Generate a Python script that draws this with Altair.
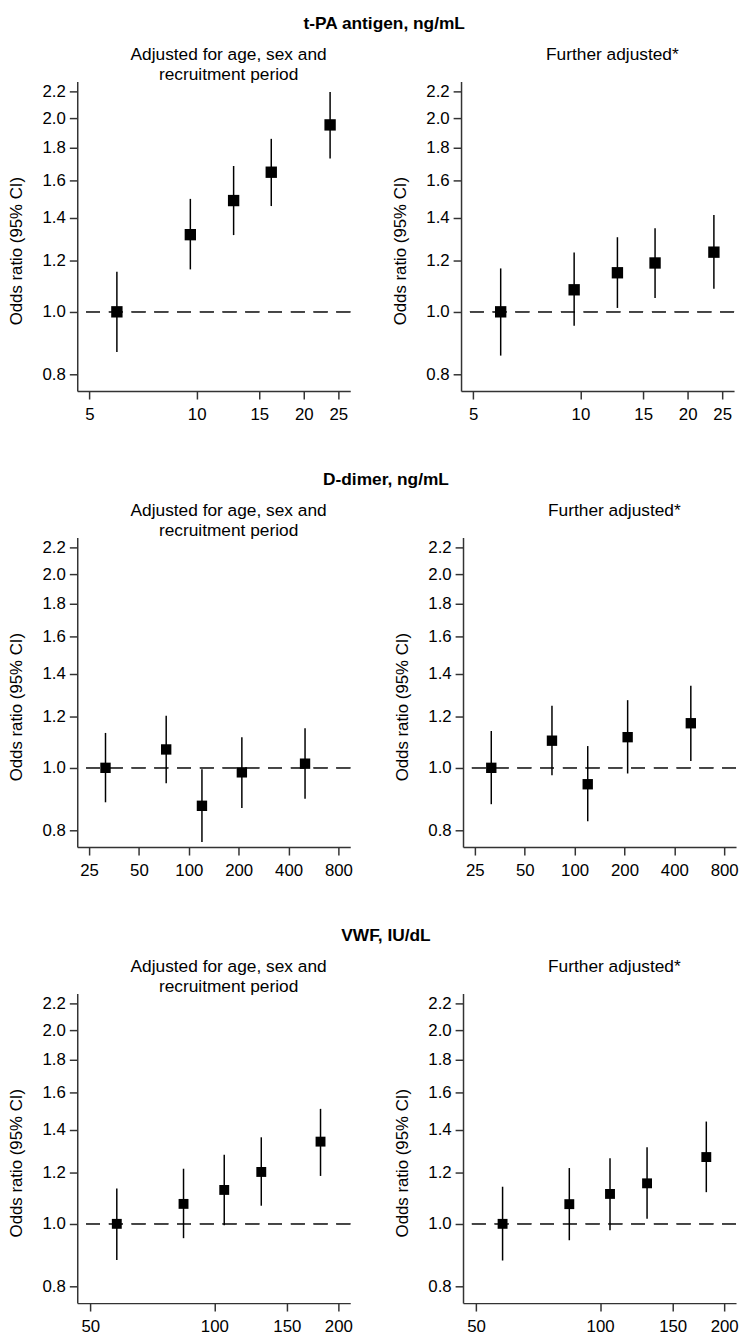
import altair as alt
import pandas as pd

FONT = "Liberation Sans"

# ---- data ----
tpa_x = [5.97, 9.6, 12.7, 16.2, 23.7]
dd_x = [31.4, 73.0, 120.0, 209.0, 503.0]
vwf_x = [58.0, 84.2, 105.7, 130.0, 181.0]

tpa_adj_or = [1.0, 1.318, 1.489, 1.648, 1.952]
tpa_adj_lo = [0.866, 1.164, 1.316, 1.460, 1.731]
tpa_adj_hi = [1.154, 1.498, 1.685, 1.857, 2.195]

tpa_full_or = [1.0, 1.082, 1.150, 1.191, 1.238]
tpa_full_lo = [0.855, 0.951, 1.014, 1.051, 1.086]
tpa_full_hi = [1.168, 1.236, 1.306, 1.348, 1.414]

dd_adj_or = [1.0, 1.068, 0.873, 0.984, 1.015]
dd_adj_lo = [0.884, 0.946, 0.767, 0.866, 0.895]
dd_adj_hi = [1.133, 1.205, 0.995, 1.116, 1.152]

dd_full_or = [1.0, 1.102, 0.943, 1.116, 1.173]
dd_full_lo = [0.878, 0.974, 0.826, 0.980, 1.025]
dd_full_hi = [1.141, 1.249, 1.081, 1.274, 1.341]

vwf_adj_or = [1.0, 1.074, 1.129, 1.204, 1.342]
vwf_adj_lo = [0.879, 0.950, 0.995, 1.067, 1.187]
vwf_adj_hi = [1.135, 1.218, 1.280, 1.363, 1.509]

vwf_full_or = [1.0, 1.073, 1.113, 1.156, 1.270]
vwf_full_lo = [0.877, 0.943, 0.977, 1.018, 1.120]
vwf_full_hi = [1.142, 1.221, 1.265, 1.315, 1.442]

y_ticks = [0.8, 1.0, 1.2, 1.4, 1.6, 1.8, 2.0, 2.2]
tpa_ticks = [5, 10, 15, 20, 25]
dd_ticks = [25, 50, 100, 200, 400, 800]
vwf_ticks = [50, 100, 150, 200]

row_titles = ["t-PA antigen, ng/mL", "D-dimer, ng/mL", "VWF, IU/dL"]
adj_title = ["Adjusted for age, sex and", "recruitment period"]
full_title = ["Further adjusted*", " "]
y_title = "Odds ratio (95% CI)"

# ---- styling ----
Y_DOMAIN = [0.753, 2.28]
PW, PH = 276, 313

yscale = alt.Scale(type="log", domain=Y_DOMAIN, nice=False, zero=False)
yaxis = alt.Axis(values=y_ticks, format=".1f", title=y_title, grid=False,
                 titleX=-61, titleY=171, titleAngle=-90, titleBaseline="middle",
                 titleAlign="center", labelOverlap=False, labelFlush=False,
                 labelPadding=4)


def panel(xs, ors, los, his, xdom, xticks, title_lines, sq):
    df = pd.DataFrame({"x": xs, "or": ors, "lo": los, "hi": his})
    xscale = alt.Scale(type="log", domain=xdom, nice=False, zero=False)
    xaxis = alt.Axis(values=xticks, format="d", title=None, grid=False,
                     labelOverlap=False, labelFlush=False, labelPadding=8)
    ref = alt.Chart(df).mark_rule(strokeDash=[14, 9], color="#444444", strokeWidth=1.3).encode(
        y=alt.YDatum(1.0, scale=yscale, axis=yaxis)
    )
    base = alt.Chart(df)
    ci = base.mark_rule(color="black", strokeWidth=1.5).encode(
        x=alt.X("x:Q", scale=xscale, axis=xaxis),
        y=alt.Y("lo:Q", scale=yscale, axis=yaxis),
        y2="hi:Q",
    )
    pts = base.mark_square(color="black", filled=True, opacity=1, size=sq).encode(
        x=alt.X("x:Q", scale=xscale, axis=xaxis),
        y=alt.Y("or:Q", scale=yscale, axis=yaxis),
    )
    return alt.layer(ref, ci, pts).properties(
        width=PW, height=PH,
        title=alt.TitleParams(text=title_lines, font=FONT, fontSize=17.5, fontWeight="normal",
                              color="black", dx=15, offset=-16, lineHeight=20,
                              baseline="alphabetic", anchor="middle"),
    )


def row(title, left, right):
    return alt.hconcat(left, right, spacing=41).properties(
        title=alt.TitleParams(text=title, font=FONT, fontSize=17.5, fontWeight="bold",
                              color="black", anchor="middle", dx=13, offset=0,
                              baseline="alphabetic")
    )


r1 = row(row_titles[0],
         panel(tpa_x, tpa_adj_or, tpa_adj_lo, tpa_adj_hi, [4.62, 27.0], tpa_ticks, adj_title, 132),
         panel(tpa_x, tpa_full_or, tpa_full_lo, tpa_full_hi, [4.62, 27.0], tpa_ticks, full_title, 132))
r2 = row(row_titles[1],
         panel(dd_x, dd_adj_or, dd_adj_lo, dd_adj_hi, [21.2, 943], dd_ticks, adj_title, 110),
         panel(dd_x, dd_full_or, dd_full_lo, dd_full_hi, [21.2, 943], dd_ticks, full_title, 110))
r3 = row(row_titles[2],
         panel(vwf_x, vwf_adj_or, vwf_adj_lo, vwf_adj_hi, [46.5, 213.7], vwf_ticks, adj_title, 100),
         panel(vwf_x, vwf_full_or, vwf_full_lo, vwf_full_hi, [46.5, 213.7], vwf_ticks, full_title, 100))

chart = alt.vconcat(r1, r2, r3, spacing=49).properties(
    padding={"left": 0, "top": 0, "right": 0, "bottom": 0}
).configure_view(stroke=None).configure_axis(
    domainColor="#333333", domainWidth=1.5, tickColor="#333333", tickWidth=1.5, tickSize=8,
    labelFont=FONT, labelFontSize=17, labelColor="black",
    titleFont=FONT, titleFontSize=17, titleFontWeight="normal", titleColor="black",
).configure_concat(spacing=41)

chart.save("out.html", embed_options={"renderer": "svg", "actions": False})
